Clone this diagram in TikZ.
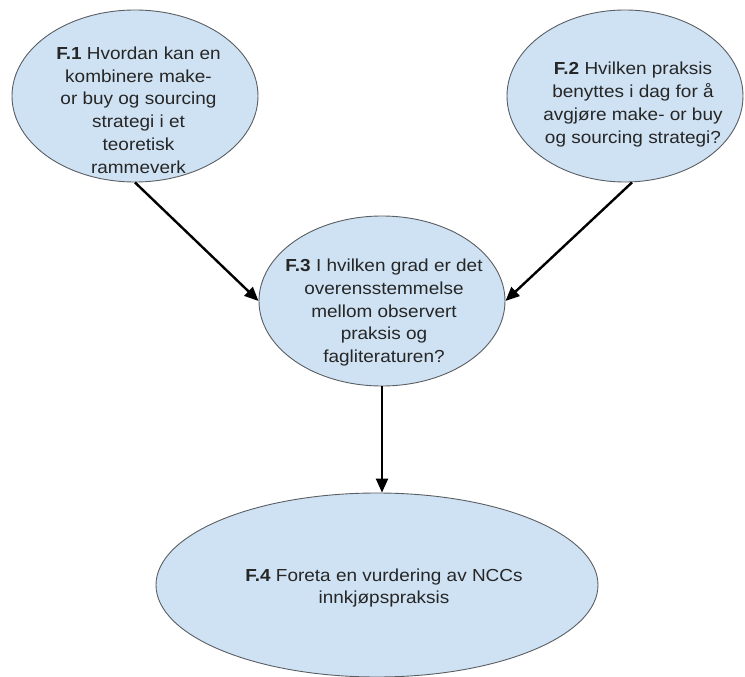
\documentclass[tikz,border=0pt]{standalone}
\usepackage{fontspec}
\setmainfont[FakeStretch=1.09]{Liberation Sans}
\usetikzlibrary{shapes.geometric,arrows.meta,calc}
\definecolor{bubblefill}{HTML}{CFE2F3}
\definecolor{bubbleline}{HTML}{5A5E63}
\definecolor{qink}{HTML}{262626}
\begin{document}
\begin{tikzpicture}[x=1pt,y=-1pt,
  bubble/.style={ellipse,draw=bubbleline,line width=0.9pt,fill=bubblefill,inner sep=0pt},
  qtext/.style={align=center,font=\fontsize{17.4}{22.8}\selectfont,text=qink,inner sep=0pt},
  flow/.style={line width=2.4pt,-{Triangle[length=14pt,width=12pt]}}]
  \useasboundingbox (0,0) rectangle (745,677);
  % question bubbles
  \node[bubble,minimum width=246pt,minimum height=172pt] (f1) at (135,96) {};
  \node[bubble,minimum width=236pt,minimum height=172pt] (f2) at (625,96) {};
  \node[bubble,minimum width=246pt,minimum height=170pt] (f3) at (382,301) {};
  \node[bubble,minimum width=442pt,minimum height=184pt] (f4) at (377,585) {};
  % question texts
  \node[qtext] (t1) at (138.5,110) {\textbf{F.1} Hvordan kan en\\kombinere make-\\or buy og sourcing\\strategi i et\\teoretisk\\rammeverk};
  \node[qtext] (t2) at (633,104.5) {\textbf{F.2} Hvilken praksis\\benyttes i dag for å\\avgjøre make- or buy\\og sourcing strategi?};
  \node[qtext] (t3) at (384,312.5) {\textbf{F.3} I hvilken grad er det\\overensstemmelse\\mellom observert\\praksis og\\fagliteraturen?};
  \node[qtext] (t4) at (384,588) {\textbf{F.4} Foreta en vurdering av NCCs\\innkjøpspraksis};
  % connectors
  \draw[flow] (f1.south) -- (f3.west);
  \draw[flow] ($(f2.south)+(7,0)$) -- (f3.east);
  \draw[flow] (f3.south) -- (f3.south |- f4.north);
\end{tikzpicture}
\end{document}
